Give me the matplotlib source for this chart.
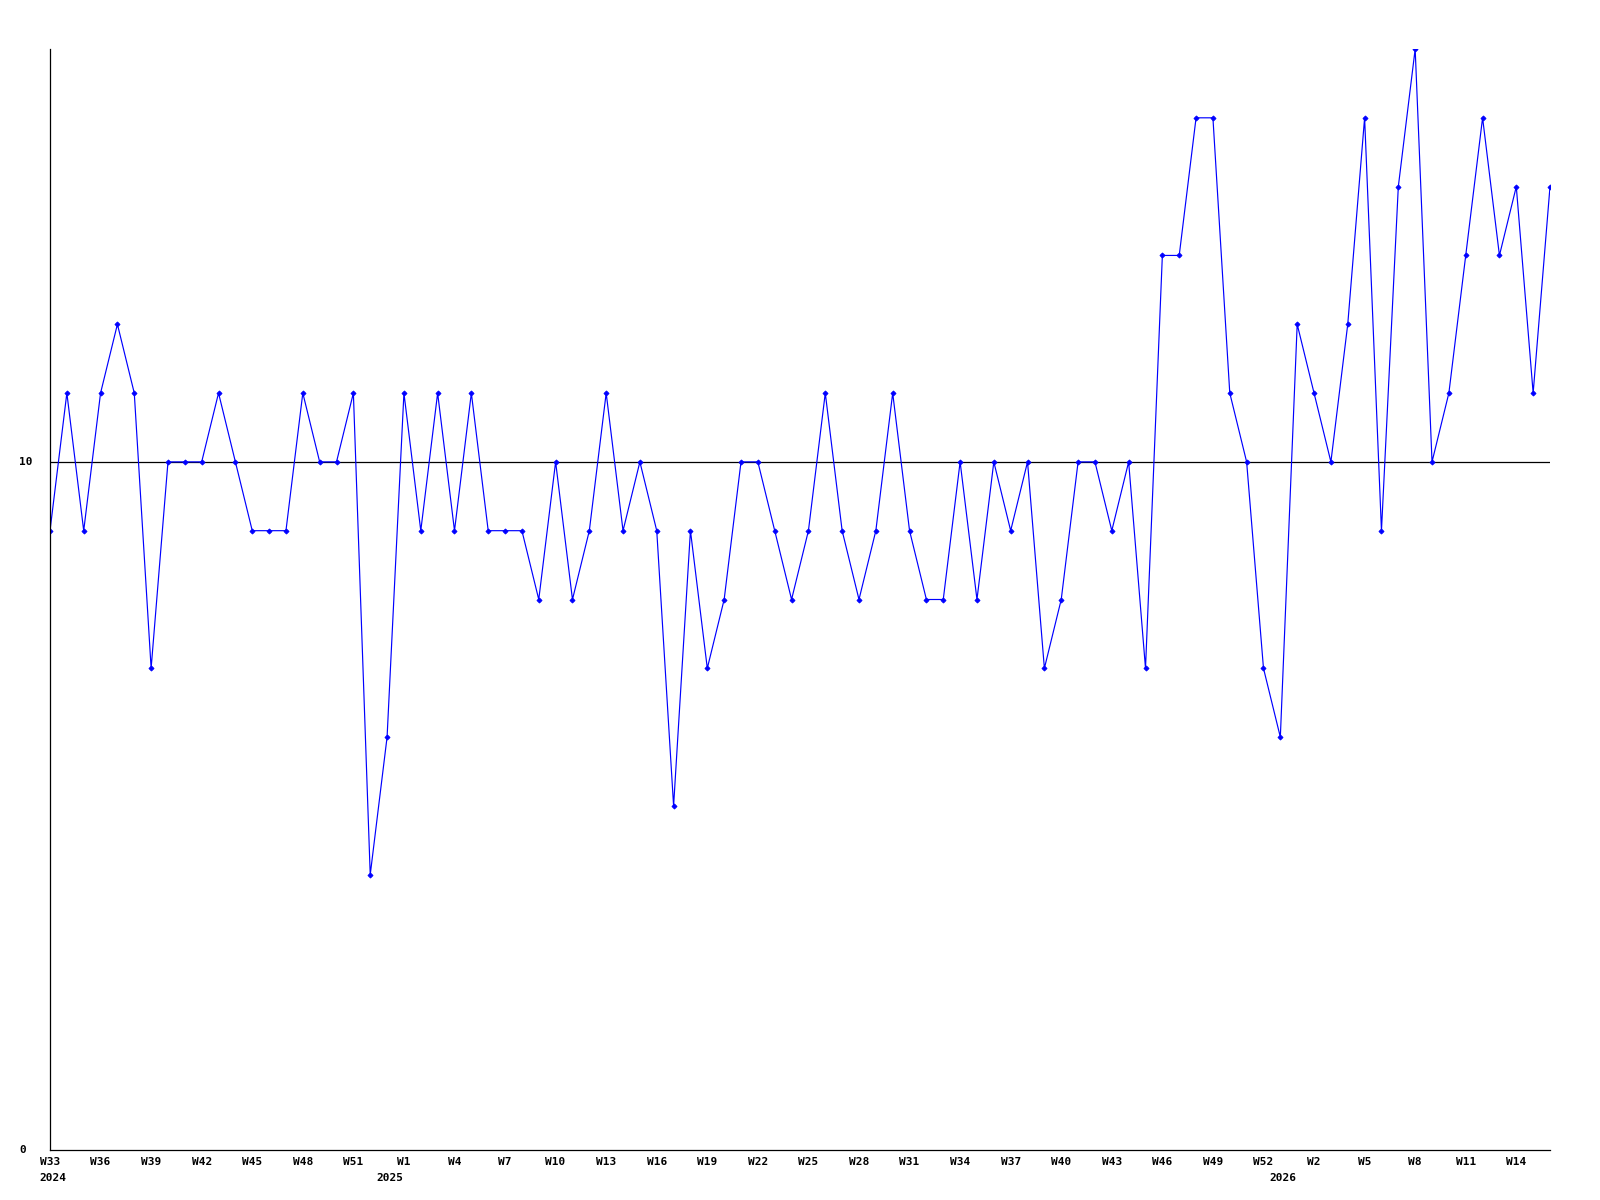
import matplotlib
matplotlib.use("Agg")
import matplotlib.pyplot as plt
import matplotlib.transforms as mtransforms

# weekly values, W33 2024 .. W16 2026 ###########################################################
values = [9, 11, 9, 11, 12, 11, 7, 10, 10, 10,
          11, 10, 9, 9, 9, 11, 10, 10, 11, 4,
          6, 11, 9, 11, 9, 11, 9, 9, 9, 8,
          10, 8, 9, 11, 9, 10, 9, 5, 9, 7,
          8, 10, 10, 9, 8, 9, 11, 9, 8, 9,
          11, 9, 8, 8, 10, 8, 10, 9, 10, 7,
          8, 10, 10, 9, 10, 7, 13, 13, 15, 15,
          11, 10, 7, 6, 12, 11, 10, 12, 15, 9,
          14, 16, 10, 11, 13, 15, 13, 14, 11, 14]

week_labels = ["W33", "W36", "W39", "W42", "W45", "W48", "W51", "W1", "W4", "W7",
               "W10", "W13", "W16", "W19", "W22", "W25", "W28", "W31", "W34", "W37",
               "W40", "W43", "W46", "W49", "W52", "W2", "W5", "W8", "W11", "W14"]
year_labels = ["2024", "2025", "2026"]
year_index = [0, 20, 73]          # first week of each year in the series
ref_value = 10
y_max = 16

FONT = dict(family="DejaVu Sans Mono", fontweight="bold", fontsize=8, color="black")

###################################################################################################
def main():
    fig = plt.figure(figsize=(16, 12), dpi=100)
    ax = fig.add_axes([50 / 1600, 1 - 1150 / 1200, 1500 / 1600, 1101 / 1200])

    x = list(range(len(values)))
    ax.axhline(ref_value, color="black", linewidth=0.9, zorder=1)
    ax.plot(x, values, color="#0000ff", linewidth=0.85, marker="D", markersize=2.6,
            markeredgewidth=0.6, zorder=2)

    ax.set_xlim(0, len(values) - 1)
    ax.set_ylim(0, y_max)
    for side in ("top", "right"):
        ax.spines[side].set_visible(False)
    for side in ("left", "bottom"):
        ax.spines[side].set_linewidth(0.9)
        ax.spines[side].set_color("black")
    ax.set_xticks([])
    ax.set_yticks([])

    # week labels every 3rd point, years underneath
    trans = mtransforms.blended_transform_factory(ax.transData, ax.transAxes)
    below = -12 / 1101
    for k, lab in enumerate(week_labels):
        ax.text(k * 3, below, lab, transform=trans, ha="center", va="center", **FONT)
    for idx, lab in zip(year_index, year_labels):
        ax.text(idx + 0.18, -28 / 1101, lab, transform=trans, ha="center", va="center", **FONT)

    # y labels, left aligned
    ytrans = mtransforms.blended_transform_factory(ax.transAxes, ax.transData)
    for v in (0, ref_value):
        ax.text(-31 / 1500, v, str(v), transform=ytrans, ha="left", va="center", **FONT)

    fig.savefig("out.png", dpi=100)
    return

###################################################################################################
if __name__ == "__main__":
    main()
